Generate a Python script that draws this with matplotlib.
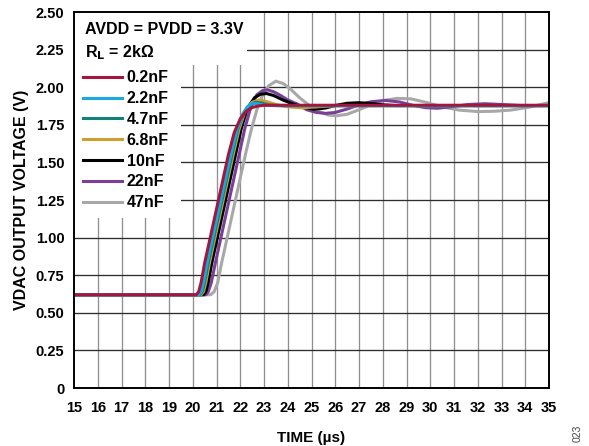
import matplotlib
matplotlib.use("Agg")
import matplotlib.pyplot as plt
from matplotlib.patches import Rectangle
from matplotlib.lines import Line2D

plt.rcParams['font.family'] = ['Liberation Sans', 'DejaVu Sans']
plt.rcParams['font.weight'] = 'bold'

# Settling waveforms of VDAC output for different load capacitances
labels = ["0.2nF", "2.2nF", "4.7nF", "6.8nF", "10nF", "22nF", "47nF"]
colors = ["#A3173F", "#19A9DF", "#13807C", "#CF9E2E", "#000000", "#7A3F98", "#A8A8A8"]

t_02 = [15, 20.15, 20.25, 20.35, 20.5, 20.75, 21.0, 21.25, 21.5, 21.75, 22.0, 22.25, 22.5, 22.75, 23.0, 35]
v_02 = [0.62, 0.62, 0.64, 0.70, 0.83, 1.01, 1.19, 1.37, 1.55, 1.70, 1.79, 1.84, 1.865, 1.875, 1.88, 1.88]

t_22 = [15, 20.25, 20.35, 20.45, 20.6, 20.85, 21.1, 21.35, 21.6, 21.85, 22.1, 22.3, 22.5, 22.75, 23.0, 23.5, 35]
v_22 = [0.62, 0.62, 0.64, 0.70, 0.83, 1.01, 1.19, 1.37, 1.55, 1.71, 1.82, 1.87, 1.893, 1.89, 1.88, 1.877, 1.877]

t_47 = [15, 20.3, 20.4, 20.5, 20.65, 20.9, 21.15, 21.4, 21.65, 21.9, 22.15, 22.4, 22.65, 22.9, 23.2, 23.7, 35]
v_47 = [0.62, 0.62, 0.64, 0.70, 0.83, 1.01, 1.19, 1.37, 1.55, 1.72, 1.83, 1.88, 1.90, 1.895, 1.882, 1.877, 1.877]

t_68 = [15, 20.35, 20.45, 20.55, 20.7, 20.95, 21.2, 21.45, 21.7, 21.95, 22.2, 22.5, 22.8, 23.1, 23.5, 24.0, 24.6, 25.3, 26.0, 35]
v_68 = [0.62, 0.62, 0.64, 0.70, 0.83, 1.01, 1.19, 1.37, 1.55, 1.72, 1.84, 1.90, 1.915, 1.905, 1.885, 1.87, 1.863, 1.87, 1.877, 1.877]

t_10 = [15, 20.45, 20.55, 20.65, 20.8, 21.05, 21.3, 21.55, 21.8, 22.05, 22.3, 22.6, 22.85, 23.1, 23.4, 23.8, 24.2, 24.65,
        25.1, 25.6, 26.0, 26.5, 27.0, 27.5, 28.0, 28.5, 35]
v_10 = [0.62, 0.62, 0.64, 0.70, 0.83, 1.01, 1.19, 1.37, 1.55, 1.73, 1.86, 1.93, 1.953, 1.958, 1.945, 1.915, 1.89, 1.868,
        1.853, 1.862, 1.878, 1.893, 1.897, 1.892, 1.883, 1.878, 1.878]

t_220 = [15, 20.55, 20.65, 20.78, 20.95, 21.2, 21.45, 21.7, 21.95, 22.2, 22.45, 22.7, 22.95, 23.15, 23.4, 23.7, 24.0,
         24.4, 24.8, 25.2, 25.6, 26.0, 26.5, 27.0, 27.5, 28.1, 28.7, 29.3, 29.8, 30.3, 30.9, 31.6, 32.3, 33.0, 33.8, 35]
v_220 = [0.62, 0.62, 0.64, 0.70, 0.83, 1.01, 1.19, 1.37, 1.55, 1.73, 1.87, 1.95, 1.978, 1.982, 1.97, 1.945, 1.915,
         1.888, 1.85, 1.832, 1.826, 1.832, 1.855, 1.882, 1.903, 1.912, 1.902, 1.878, 1.864, 1.86, 1.87, 1.885, 1.89,
         1.885, 1.878, 1.878]

t_470 = [15, 20.75, 20.9, 21.05, 21.2, 21.45, 21.7, 21.95, 22.2, 22.45, 22.7, 22.95, 23.2, 23.5, 23.8, 24.1, 24.5,
         24.9, 25.3, 25.7, 26.05, 26.5, 27.0, 27.5, 28.0, 28.6, 29.2, 29.8, 30.5, 31.2, 32.0, 32.7, 33.4, 34.2, 35]
v_470 = [0.62, 0.62, 0.64, 0.70, 0.82, 1.00, 1.18, 1.36, 1.54, 1.71, 1.85, 1.95, 2.01, 2.04, 2.025, 1.99, 1.93,
         1.88, 1.84, 1.815, 1.81, 1.82, 1.85, 1.885, 1.91, 1.926, 1.922, 1.90, 1.87, 1.848, 1.838, 1.84, 1.848,
         1.868, 1.898]

series_t = [t_02, t_22, t_47, t_68, t_10, t_220, t_470]
series_v = [v_02, v_22, v_47, v_68, v_10, v_220, v_470]

x_ticks = list(range(15, 36))
y_ticks = [0, 0.25, 0.50, 0.75, 1.00, 1.25, 1.50, 1.75, 2.00, 2.25, 2.50]
y_tick_labels = ["0", "0.25", "0.50", "0.75", "1.00", "1.25", "1.50", "1.75", "2.00", "2.25", "2.50"]

fig = plt.figure(figsize=(5.89, 4.46), dpi=100)
ax = fig.add_axes([74 / 589, 58 / 446, 475 / 589, 376 / 446])
ax.set_xlim(15, 35)
ax.set_ylim(0, 2.5)

# grid: light vertical lines, dark horizontal lines
for x in x_ticks[1:-1]:
    ax.axvline(x, color="#8f8f8f", lw=0.95, zorder=1)
for y in y_ticks[1:-1]:
    ax.axhline(y, color="#2e2e2e", lw=0.95, zorder=1)

# white panels behind the annotation and the legend
ax.add_patch(Rectangle((15, 2.145), 7.3, 0.36, facecolor="white", edgecolor="none", zorder=2))
ax.add_patch(Rectangle((15, 1.13), 4.52, 1.1, facecolor="white", edgecolor="none", zorder=2))

# largest capacitance drawn first so the fastest trace sits on top
for i in reversed(range(len(labels))):
    ax.plot(series_t[i], series_v[i], color=colors[i], lw=2.2,
            solid_joinstyle="round", solid_capstyle="round", zorder=3)

ax.set_xticks(x_ticks)
ax.set_xticklabels([str(x) for x in x_ticks])
ax.set_yticks(y_ticks)
ax.set_yticklabels(y_tick_labels)
ax.tick_params(axis="both", length=0, labelsize=10.5)
ax.tick_params(axis="x", pad=9)
ax.tick_params(axis="y", pad=7)
for s in ax.spines.values():
    s.set_linewidth(1.4)
    s.set_color("black")
    s.set_zorder(5)

ax.set_xlabel("TIME (µs)", fontsize=11, fontweight="bold", labelpad=12)
ax.set_ylabel("VDAC OUTPUT VOLTAGE (V)", fontsize=11.5, fontweight="bold", labelpad=5)

# annotation text
ax.text(15.47, 2.382, "AVDD = PVDD = 3.3V", fontsize=11.5, fontweight="bold", va="center", ha="left", zorder=4)
ax.text(15.47, 2.232, r"R$_\mathbf{L}$ = 2kΩ", fontsize=11.5, fontweight="bold", va="center", ha="left", zorder=4)

handles = [Line2D([0], [0], color=c, lw=2.2) for c in colors]
leg = ax.legend(handles, labels, loc="upper left", bbox_to_anchor=(0.005, 0.862), frameon=False,
                handlelength=2.44, handletextpad=0.31, labelspacing=0.365,
                borderaxespad=0.0, borderpad=0.4, prop={"weight": "bold", "size": 11.5})
leg.set_zorder(6)

fig.text(578 / 589, 1 - 433 / 446, "023", fontsize=7.5, rotation=90, color="#444444",
         ha="center", va="center", fontweight="normal")

fig.savefig("out.png", dpi=100)
